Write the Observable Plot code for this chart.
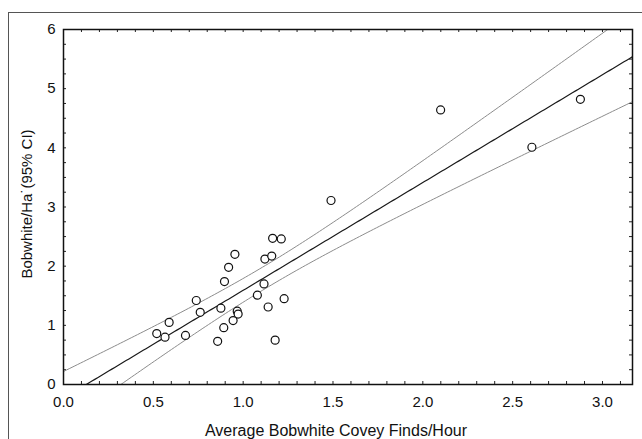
<!DOCTYPE html>
<html>
<head>
<meta charset="utf-8">
<script src="https://cdn.jsdelivr.net/npm/d3@7"></script>
<script src="https://cdn.jsdelivr.net/npm/@observablehq/plot@0.6"></script>
<style>
html, body { margin: 0; padding: 0; background: #fff; }
#wrap { position: relative; width: 642px; height: 439px; overflow: hidden; background: #fff; }
#border { position: absolute; left: 8px; top: 12px; right: -10px; bottom: -10px;
  border-left: 1.5px solid #555; border-top: 1.5px solid #555; pointer-events: none; z-index: 2; }
</style>
</head>
<body>
<div id="wrap"><div id="border"></div></div>
<script>
// Average bobwhite covey finds per hour (x) vs bobwhite per ha (y)
const coveyFinds = [0.519, 0.565, 0.588, 0.679, 0.739, 0.761, 0.858, 0.876, 0.892, 0.896,
  0.919, 0.944, 0.954, 0.967, 0.972, 1.079, 1.116, 1.121, 1.139, 1.159,
  1.164, 1.178, 1.212, 1.228, 1.489, 2.099, 2.607, 2.877];
const bobwhitePerHa = [0.86, 0.80, 1.05, 0.83, 1.42, 1.22, 0.73, 1.29, 0.96, 1.74,
  1.98, 1.08, 2.20, 1.24, 1.19, 1.51, 1.70, 2.12, 1.31, 2.17,
  2.47, 0.75, 2.46, 1.45, 3.11, 4.64, 4.01, 4.82];
const xTickValues = [0, 0.5, 1.0, 1.5, 2.0, 2.5, 3.0];
const yTickValues = [0, 1, 2, 3, 4, 5, 6];
const xTitle = "Average Bobwhite Covey Finds/Hour";
const yTitle = "Bobwhite/Ha\u02D9(95% CI)";

const points = coveyFinds.map((x, i) => ({x, y: bobwhitePerHa[i]}));

// Ordinary least squares fit with 95% confidence band for the mean
const n = points.length;
const mx = d3.mean(points, d => d.x), my = d3.mean(points, d => d.y);
const sxx = d3.sum(points, d => (d.x - mx) ** 2);
const sxy = d3.sum(points, d => (d.x - mx) * (d.y - my));
const slope = sxy / sxx, intercept = my - slope * mx;
const sse = d3.sum(points, d => (d.y - intercept - slope * d.x) ** 2);
const s = Math.sqrt(sse / (n - 2));
const tCrit = 2.056; // t(0.975, df = 26)
const xMax = 3.167;
const grid = d3.range(0, 201).map(i => i * xMax / 200);
const fit = grid.map(x => {
  const yhat = intercept + slope * x;
  const se = s * Math.sqrt(1 / n + (x - mx) ** 2 / sxx);
  return {x, yhat, lo: yhat - tCrit * se, hi: yhat + tCrit * se};
});

const W = 642, H = 439, mL = 63, mR = 10, mT = 29, mB = 55;
const innerW = W - mL - mR, innerH = H - mT - mB;
const tl = 3;
const xMinor = d3.range(0, 32).map(i => i / 10);
const yMinor = d3.range(0, 25).map(i => i / 4);

const plot = Plot.plot({
  width: W, height: H,
  marginLeft: mL, marginRight: mR, marginTop: mT, marginBottom: mB,
  style: {fontFamily: "'Liberation Sans', Arial, sans-serif", fontSize: "15px", color: "#111", background: "transparent"},
  x: {domain: [0, xMax]},
  y: {domain: [0, 6]},
  marks: [
    Plot.axisX(xTickValues, {tickSize: 0, tickPadding: 12, tickFormat: d3.format(".1f"), label: null, fontSize: 15}),
    Plot.axisY(yTickValues, {tickSize: 0, tickPadding: 8, tickFormat: d3.format("d"), label: null, fontSize: 15}),
    Plot.tickX(xMinor, {x: d => d, insetTop: innerH - tl, stroke: "#222"}),
    Plot.tickX(xMinor, {x: d => d, insetBottom: innerH - tl, stroke: "#222"}),
    Plot.tickY(yMinor, {y: d => d, insetRight: innerW - tl, stroke: "#222"}),
    Plot.tickY(yMinor, {y: d => d, insetLeft: innerW - tl, stroke: "#222"}),
    Plot.line(fit, {x: "x", y: "hi", stroke: "#8c8c8c", strokeWidth: 1, clip: true}),
    Plot.line(fit, {x: "x", y: "lo", stroke: "#8c8c8c", strokeWidth: 1, clip: true}),
    Plot.line(fit, {x: "x", y: "yhat", stroke: "#1a1a1a", strokeWidth: 1.2, clip: true}),
    Plot.dot(points, {x: "x", y: "y", r: 4, stroke: "#111", strokeWidth: 1.2, fill: "white"}),
    Plot.frame({stroke: "#111", strokeWidth: 1.5}),
    Plot.text([xTitle], {text: d => d, frameAnchor: "bottom", dy: 51.5, dx: -12, lineAnchor: "bottom", textAnchor: "middle", fontSize: 16, fill: "#111", ariaLabel: "x-title"}),
    Plot.text([yTitle], {text: d => d, frameAnchor: "left", rotate: -90, dx: -36, dy: -3, textAnchor: "middle", lineAnchor: "middle", fontSize: 15, fill: "#111", ariaLabel: "y-title"})
  ]
});

d3.select(plot).select('g[aria-label="x-title"] text').attr("textLength", 303).attr("lengthAdjust", "spacingAndGlyphs");
d3.select(plot).select('g[aria-label="y-title"] text').attr("textLength", 165).attr("lengthAdjust", "spacingAndGlyphs");

document.getElementById("wrap").prepend(plot);
</script>
</body>
</html>
